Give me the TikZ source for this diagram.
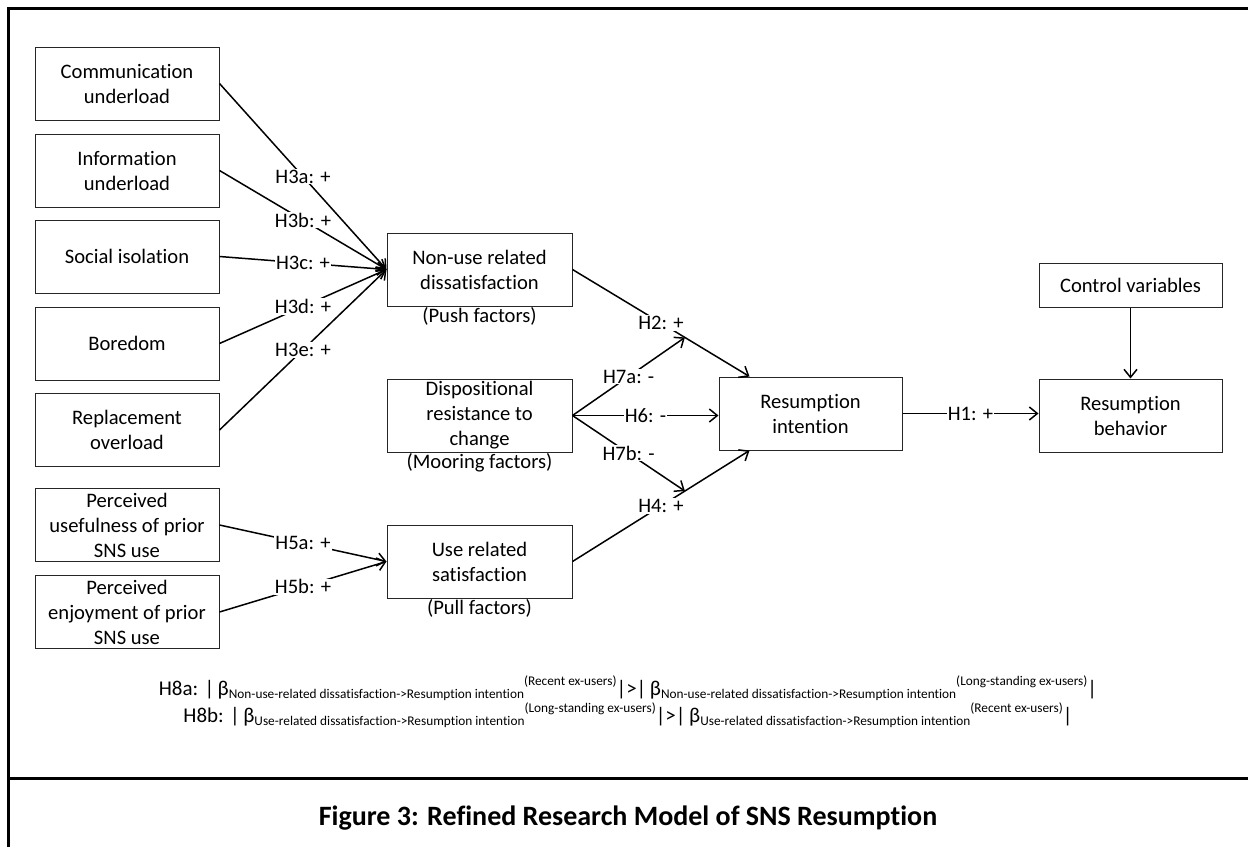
\documentclass[tikz,border=0pt]{standalone}
\usepackage{fontspec}
\setmainfont{Carlito}[Ligatures=NoCommon]
\usetikzlibrary{arrows.meta,calc}
\newcommand{\bsub}[2]{β\raisebox{-3.5pt}{\fontsize{13.3}{15}\selectfont #1}\raisebox{9.5pt}{\fontsize{13.3}{15}\selectfont #2}}
\begin{document}
\begin{tikzpicture}[x=1pt,y=-1pt,
  box/.style={draw=black!85, line width=1pt, minimum width=184pt, minimum height=73pt, align=center, font=\fontsize{20.6}{25}\selectfont, inner sep=0pt},
  con/.style={line width=1.5pt, -{Straight Barb[length=8pt,width=13pt]}},
  lab/.style={fill=white, inner sep=1pt, font=\fontsize{20.6}{25}\selectfont},
  note/.style={inner sep=1pt, font=\fontsize{20.6}{25}\selectfont},
  frameline/.style={line width=3pt}]
\useasboundingbox (0,0) rectangle (1248,847);
\fill[white] (0,0) rectangle (1248,847);
% frame
\coordinate (f1) at (8,847);
\coordinate (f2) at (8,8);
\coordinate (f3) at (1248,8);
\coordinate (f4) at (8,778);
\coordinate (f5) at (1248,778);
\draw[frameline] (f1) -- (f2) -- (f3);
\draw[frameline] (f4) -- (f5);
% left boxes
\node[box] (comm) at (127,83.5) {Communication\\underload};
\node[box] (info) at (127,170.5) {Information\\underload};
\node[box] (soc) at (127,256.5) {Social isolation};
\node[box] (bore) at (127,343.5) {Boredom};
\node[box] (repl) at (127,430) {Replacement\\overload};
\node[box] (pu) at (127,525) {Perceived\\usefulness of prior\\SNS use};
\node[box] (pe) at (127,612) {Perceived\\enjoyment of prior\\SNS use};
% middle boxes
\node[box,minimum width=185pt] (nud) at (479.5,269.5) {Non-use related\\dissatisfaction};
\node[note,below] (push) at (nud.south) {(Push factors)};
\node[box,minimum width=185pt] (drc) at (479.5,415.5) {Dispositional\\resistance to\\change};
\node[note,below] (moor) at (drc.south) {(Mooring factors)};
\node[box,minimum width=185pt] (urs) at (479.5,561.5) {Use related\\satisfaction};
\node[note,below] (pull) at (urs.south) {(Pull factors)};
% right boxes
\node[box,minimum width=183pt] (ri) at (810.5,413.5) {Resumption\\intention};
\node[box,minimum width=183pt,minimum height=44pt] (cv) at (1130.5,285) {Control variables};
\node[box,minimum width=183pt] (rb) at (1130.5,415.5) {Resumption\\behavior};
% helper coordinates
\coordinate (rit) at ($(ri.north west)+(31,0)$);
\coordinate (rib) at ($(ri.south west)+(31,0)$);
\coordinate (h2a) at ($(nud.east)!0.635!(rit)$);
\coordinate (h4a) at ($(urs.east)!0.635!(rib)$);
% left connectors
\draw[con] (comm.east) -- (nud.west) node[lab,pos=0.5] {H3a: +};
\draw[con] (info.east) -- (nud.west) node[lab,pos=0.5] {H3b: +};
\draw[con] (soc.east) -- (nud.west) node[lab,pos=0.5] {H3c: +};
\draw[con] (bore.east) -- (nud.west) node[lab,pos=0.5] {H3d: +};
\draw[con] (repl.east) -- (nud.west) node[lab,pos=0.5] {H3e: +};
\draw[con] (pu.east) -- (urs.west) node[lab,pos=0.5] {H5a: +};
\draw[con] (pe.east) -- (urs.west) node[lab,pos=0.5] {H5b: +};
% middle connectors
\draw[con] (nud.east) -- (rit) node[lab,pos=0.5] {H2: +};
\draw[con] (urs.east) -- (rib) node[lab,pos=0.5] {H4: +};
\draw[con] (drc.east) -- (h2a) node[lab,pos=0.5] {H7a: -};
\draw[con] (drc.east) -- (h4a) node[lab,pos=0.5] {H7b: -};
\draw[con] (drc.east) -- (drc.east -| ri.west) node[lab,pos=0.5] {H6: -};
% right connectors
\draw[con] (ri.east) -- (ri.east -| rb.west) node[lab,pos=0.5] {H1: +};
\draw[con] (cv.south) -- (rb.north);
% H8 hypotheses
\node[note,anchor=base] (h8a) at (628,695) {\fontsize{21}{24}\selectfont H8a: |\,\bsub{Non-use-related dissatisfaction->Resumption intention}{(Recent ex-users)}|>|\,\bsub{Non-use-related dissatisfaction->Resumption intention}{(Long-standing ex-users)}|};
\node[note,anchor=base] (h8b) at (628,722) {\fontsize{21}{24}\selectfont H8b: |\,\bsub{Use-related dissatisfaction->Resumption intention}{(Long-standing ex-users)}|>|\,\bsub{Use-related dissatisfaction->Resumption intention}{(Recent ex-users)}|};
% caption
\node[note,anchor=base,font=\bfseries\fontsize{28}{32}\selectfont] (cap) at (628,825) {Figure 3: Refined Research Model of SNS Resumption};
\end{tikzpicture}
\end{document}
